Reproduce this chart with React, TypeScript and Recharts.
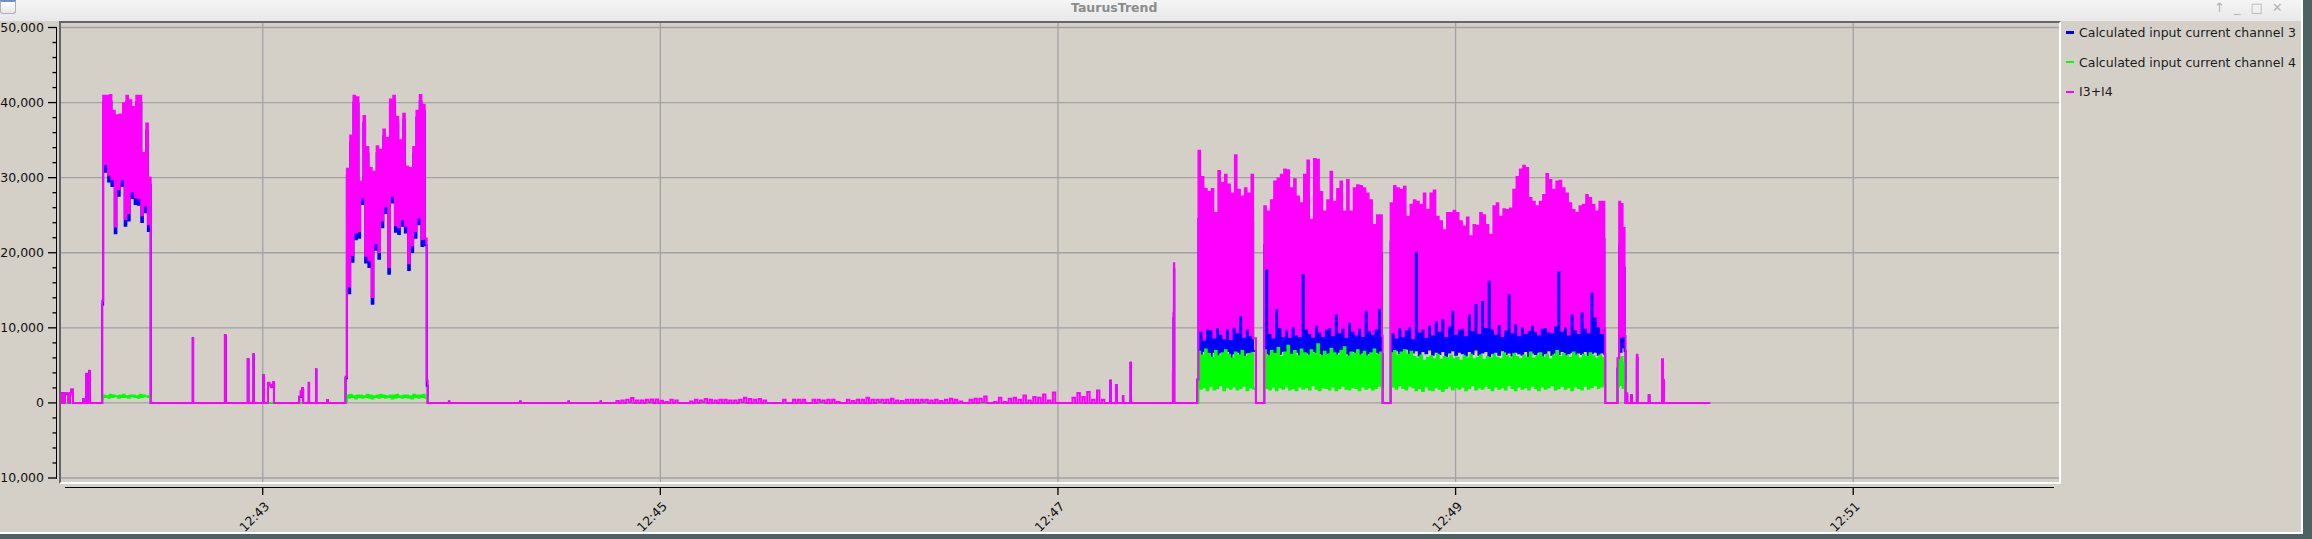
import { LineChart, Line, XAxis, YAxis, CartesianGrid } from "recharts";

// time is in seconds after 12:42:00
const xDomain = [-0.87, 602.1];
const timeTicks = [60, 180, 300, 420, 540];
const timeLabels = ["12:43", "12:45", "12:47", "12:49", "12:51"];

const yDomain = [-10533, 50600];
const yMajor = [-10000, 0, 10000, 20000, 30000, 40000, 50000];
const yTicks = [
  -10000, -8000, -6000, -4000, -2000, 0, 2000, 4000, 6000, 8000, 10000, 12000, 14000, 16000,
  18000, 20000, 22000, 24000, 26000, 28000, 30000, 32000, 34000, 36000, 38000, 40000, 42000,
  44000, 46000, 48000, 50000,
];

const seriesNames = [
  "Calculated input current channel 3",
  "Calculated input current channel 4",
  "I3+I4",
];
const seriesColors = ["#0000ff", "#00ff00", "#ff00ff"];

// isolated samples: time, I3+I4, channel 3, channel 4
const evT = [
  -0.87, -0.65, -0.05, 0.3, 1.0, 1.4, 1.85, 2.25, 2.75, 5.85, 5.95, 6.7, 6.9, 7.65, 7.85, 11.55,
  25.8, 26.2, 38.9, 39.0, 48.6, 48.75, 48.85, 55.5, 55.7, 57.2, 57.3, 60.2, 60.4, 61.6, 62.0,
  62.6, 63.1, 63.4, 71.0, 71.5, 71.9, 72.1, 72.2, 73.9, 74.0, 76.1, 76.2, 79.4, 79.6, 85.0,
  109.5, 109.8, 116.2, 116.3, 137.7, 137.8, 152.3, 152.4, 162.0, 162.1,
  315.8, 315.9, 317.5, 317.7, 319.6, 319.7, 321.9, 322.0, 334.7, 334.85, 335.0, 335.1, 342.0,
  359.75, 398.0, 465.15,
  468.85, 469.35, 469.7, 470.05, 470.4, 470.6, 471.0, 471.3, 471.5, 471.8, 473.0, 473.2,
  474.7, 474.9, 478.3, 478.5, 482.3, 482.6, 482.9, 496.8,
];
const evSum = [
  0, 1300, 0, 1300, 1250, 0, 1300, 1800, 0, 500, 0, 3900, 0, 4300, 0, 13600,
  30000, 0, 8600, 0, 9060, 8800, 0, 5800, 0, 6500, 0, 3700, 0, 2700, 2400,
  2200, 2800, 0, 840, 1600, 2000, 1800, 0, 2700, 0, 4500, 0, 400, 0, 3500,
  3000, 0, 200, 0, 200, 0, 200, 0, 200, 0,
  3000, 0, 2400, 0, 930, 0, 5370, 0, 4600, 12000, 18600, 0, 3100,
  0, 0, 0,
  5950, 26800, 8800, 26500, 9000, 23300, 8900, 0, 1300, 0, 1070, 0,
  6400, 0, 1070, 0, 5800, 3060, 0, 0,
];
const evCh3 = [
  0, 1300, 0, 1250, 1200, 0, 1300, 1750, 0, 500, 0, 3850, 0, 4250, 0, 13100,
  29100, 0, 8600, 0, 9000, 8800, 0, 5800, 0, 6450, 0, 3650, 0, 2650, 2350,
  2150, 2750, 0, 800, 1550, 1950, 1750, 0, 2650, 0, 4450, 0, 400, 0, 3300,
  2300, 0, 200, 0, 200, 0, 200, 0, 200, 0,
  2950, 0, 2350, 0, 900, 0, 5300, 0, 4000, 11300, 17800, 0, 3100,
  0, 0, 0,
  4600, 21000, 6800, 20500, 7400, 18000, 6900, 0, 1000, 0, 1050, 0,
  6000, 0, 1000, 0, 5500, 3000, 0, 0,
];
const evCh4 = [
  0, 0, 0, 0, 0, 0, 0, 0, 0, 0, 0, 0, 0, 0, 0, 500,
  900, 0, 0, 0, 0, 0, 0, 0, 0, 0, 0, 0, 0, 0, 0,
  0, 0, 0, 0, 0, 0, 0, 0, 0, 0, 0, 0, 0, 0, 200,
  700, 0, 0, 0, 0, 0, 0, 0, 0, 0,
  0, 0, 0, 0, 0, 0, 0, 0, 600, 700, 800, 0, 0,
  0, 0, 0,
  2200, 5800, 2400, 6100, 2000, 5300, 2600, 1300, 0, 0, 0, 0,
  400, 0, 0, 0, 300, 0, 0, 0,
];

// bursts: one bin per second, each bin read as its peak and its floor
const binStep = 1;

const r1Start = 11.85;
const r1SumHi = [40900, 40900, 41000, 38900, 38300, 38400, 39900, 40900, 40300, 39400, 40900, 40900, 33300, 37200];
const r1SumLo = [31800, 30400, 29800, 23500, 28500, 29800, 24500, 25300, 28200, 27400, 27300, 25000, 26300, 23800];
const r1Ch3Hi = [40000, 39900, 40100, 38000, 37400, 37500, 39000, 40000, 39400, 38500, 40000, 40000, 32400, 36300];
const r1Ch3Lo = [30800, 29500, 28900, 22600, 27600, 28900, 23600, 24300, 27300, 26500, 26400, 24100, 25400, 22900];
const r1Ch4Hi = [1000, 900, 1100, 1000, 900, 1000, 1100, 900, 1000, 1000, 900, 1100, 1000, 900];
const r1Ch4Lo = [800, 700, 800, 900, 700, 800, 800, 700, 900, 800, 700, 800, 900, 800];

const r2Start = 85.4;
const r2SumHi = [
  31200, 35600, 40900, 40700, 29500, 38200, 34100, 31300, 30800, 34200, 33700, 36400,
  35300, 40400, 40900, 38100, 35000, 38500, 31500, 31300, 34100, 38900, 41000, 39700,
];
const r2SumLo = [
  15500, 19700, 22700, 22900, 27400, 19600, 19000, 14100, 21300, 20100, 24300, 26200,
  18100, 27600, 23700, 23400, 24500, 23600, 18600, 21000, 22900, 24700, 21800, 21900,
];
const r2Ch3Hi = [
  30300, 34700, 40000, 39800, 28600, 37300, 33200, 30400, 29900, 33300, 32800, 35500,
  34400, 39500, 40000, 37200, 34100, 37600, 30600, 30400, 33200, 38000, 40100, 38800,
];
const r2Ch3Lo = [
  14600, 18800, 21800, 22000, 26500, 18700, 18100, 13200, 20400, 19200, 23400, 25300,
  17200, 26700, 22800, 22500, 23600, 22700, 17700, 20100, 22000, 23800, 20900, 21000,
];
const r2Ch4Hi = [
  1000, 1100, 900, 1000, 1000, 900, 1100, 1000, 900, 1000, 1100, 1000,
  900, 1000, 1000, 1100, 900, 1000, 1000, 900, 1100, 1000, 1000, 1100,
];
const r2Ch4Lo = [
  700, 800, 600, 800, 700, 800, 700, 600, 800, 700, 800, 700,
  800, 600, 700, 800, 700, 800, 700, 600, 800, 700, 800, 700,
];

const r3aStart = 342.4;
const r3aSumHi = [33600, 30100, 28500, 28100, 28500, 25300, 30900, 29300, 30400, 29100, 27900, 33000, 28400, 27500, 28600, 27900, 30400];
const r3aSumLo = [9600, 8400, 9900, 9800, 8700, 10100, 9200, 8600, 9900, 8500, 10200, 9400, 11700, 8800, 9900, 9000, 8600];
const r3aCh3Hi = [24500, 23500, 22000, 21500, 22000, 19500, 24500, 23000, 24000, 22500, 21500, 26500, 22000, 21000, 22000, 21500, 24000];
const r3aCh3Lo = [6400, 6900, 6600, 6200, 6800, 6300, 6700, 6500, 6900, 6100, 6600, 6800, 6400, 6200, 6700, 6300, 6900];
const r3aCh4Hi = [6800, 6300, 7100, 6500, 6000, 6900, 6200, 6600, 7000, 6400, 5900, 6700, 6300, 6900, 6100, 6500, 6600];
const r3aCh4Lo = [1900, 2100, 1700, 2300, 1800, 2000, 2400, 1700, 2100, 1900, 2200, 1800, 2000, 2300, 1700, 2100, 1900];

const r3bStart = 362.25;
const r3bSumHi = [
  26200, 25500, 27000, 29500, 29900, 30400, 31100, 31000, 28600, 29800,
  27500, 26600, 30400, 32300, 24400, 32500, 32400, 28100, 25500, 27000,
  30800, 26800, 28500, 29500, 25500, 29700, 25500, 28600, 29000, 28900,
  28600, 27900, 27000, 23700, 25000, 25000,
];
const r3bSumLo = [
  17900, 9300, 8700, 12600, 10100, 8900, 9800, 8800, 10200, 9100,
  8900, 17300, 9900, 9300, 8800, 10400, 9500, 8900, 9900, 10100,
  9000, 11900, 9400, 10000, 8800, 10800, 9600, 9100, 10000, 8900,
  12400, 9700, 9200, 9900, 12600, 8900,
];
const r3bCh3Hi = [
  21000, 20500, 22000, 24500, 25000, 25500, 26000, 26000, 23500, 25000,
  22500, 21500, 25500, 27000, 19500, 27500, 27500, 23000, 20500, 22000,
  26000, 22000, 23500, 24500, 20500, 24500, 20500, 23500, 24000, 24000,
  23500, 23000, 22000, 18500, 20000, 20000,
];
const r3bCh3Lo = [
  6600, 6300, 6700, 6100, 6500, 6900, 6200, 6600, 6400, 6800,
  6100, 6500, 6700, 6300, 6900, 6200, 6600, 6400, 6000, 6700,
  6500, 6300, 6800, 6100, 6600, 6400, 6900, 6200, 6500, 6700,
  6300, 6600, 6100, 6800, 6400, 6500,
];
const r3bCh4Hi = [
  7000, 6200, 6900, 6500, 7300, 6100, 6700, 7600, 6400, 6900,
  6200, 7100, 6600, 6300, 7000, 6500, 7800, 6200, 6800, 6400,
  7200, 6600, 6300, 6900, 7400, 6100, 6700, 6500, 7000, 6300,
  6800, 6200, 6600, 7100, 6400, 6700,
];
const r3bCh4Lo = [
  2000, 1800, 2200, 1700, 2100, 1900, 2300, 1800, 2000, 1700,
  2200, 1900, 2100, 1800, 2400, 1900, 1700, 2100, 2000, 1800,
  2200, 1700, 2000, 2300, 1900, 1800, 2100, 2000, 1700, 2200,
  1900, 2100, 1800, 2000, 2300, 1900,
];

const r3cStart = 400.4;
const r3cSumHi = [
  26600, 28900, 28600, 28400, 28800, 24800, 26400, 27000, 26800, 26400,
  27900, 25700, 27900, 28300, 24800, 24200, 23000, 25300, 25300, 25600,
  25300, 24200, 23500, 24700, 22200, 23700, 23600, 25300, 25000, 23700,
  22400, 26200, 26600, 24800, 25800, 25700, 25900, 28400, 30100, 31100,
  31600, 31300, 27300, 26800, 26200, 26800, 27700, 30500, 29700, 28400,
  29500, 29600, 28600, 27900, 26600, 25700, 25300, 26200, 26400, 27700,
  27300, 26400, 25500, 26800, 26800,
];
const r3cSumLo = [
  9400, 8700, 10100, 8900, 9800, 10200, 8600, 20200, 9500, 9900,
  8800, 10400, 9100, 11000, 9600, 11300, 8900, 10300, 12400, 9200,
  9900, 10000, 9000, 11900, 9700, 13300, 9300, 13700, 10100, 16400,
  9900, 9200, 10500, 8900, 9800, 14600, 9400, 10600, 9000, 10200,
  9300, 9700, 10400, 9600, 9100, 10000, 10100, 9500, 9400, 10300,
  17700, 9600, 10200, 9100, 11900, 9800, 9300, 12200, 10000, 9400,
  14800, 11500, 10200, 9300, 9900,
];
const r3cCh3Hi = [
  21500, 23000, 23500, 22500, 23800, 20000, 21000, 22500, 21500, 21000,
  23000, 20500, 22500, 23000, 19800, 19000, 18000, 20500, 20000, 20800,
  20000, 19500, 18500, 19500, 17500, 18800, 18700, 20300, 20000, 18900,
  17600, 21000, 21500, 19800, 20700, 20800, 21000, 23000, 24500, 25500,
  26000, 25800, 22000, 21500, 21000, 21700, 22300, 25000, 24200, 23000,
  24000, 24300, 23200, 22500, 21500, 20500, 20000, 21000, 21200, 22500,
  22000, 21300, 20400, 21600, 21800,
];
const r3cCh3Lo = [
  6800, 7000, 6600, 6900, 7200, 6500, 6700, 7000, 6300, 6900,
  6600, 7100, 6400, 6800, 6500, 6900, 6200, 6700, 7000, 6400,
  6800, 6600, 6300, 6900, 6500, 7100, 6400, 6700, 6900, 6200,
  6600, 6800, 6400, 7000, 6500, 6700, 6300, 6800, 6600, 6400,
  6900, 6200, 6700, 6500, 6800, 6300, 6600, 7000, 6400, 6700,
  6500, 6900, 6200, 6600, 6800, 6400, 6700, 6500, 6900, 6300,
  6600, 6800, 6400, 6700, 6500,
];
const r3cCh4Hi = [
  6600, 6900, 6300, 6700, 7000, 6400, 6800, 6100, 5900, 6300,
  5600, 6000, 6200, 5800, 6400, 5700, 6100, 5900, 6300, 5800,
  6000, 5600, 6200, 5900, 6400, 5800, 6000, 6300, 5700, 6100,
  5900, 6400, 6000, 5800, 6600, 6200, 5900, 6500, 6100, 5800,
  6300, 6000, 6700, 5900, 6200, 6600, 6000, 6400, 5800, 6300,
  6900, 6100, 6500, 6200, 6000, 6700, 6300, 5900, 6400, 6100,
  6600, 6200, 5900, 6300, 6000,
];
const r3cCh4Lo = [
  2200, 1900, 2400, 2000, 1800, 2300, 2100, 1700, 2000, 1600,
  2200, 1800, 1700, 2100, 1900, 1600, 2000, 2300, 1800, 2100,
  1900, 2200, 1700, 2000, 2400, 1800, 2100, 1900, 2300, 2000,
  1700, 2200, 1900, 2100, 1800, 2400, 2000, 1700, 2200, 1900,
  2100, 1800, 2300, 2000, 1700, 2200, 1900, 2100, 2400, 1800,
  2000, 2300, 1900, 2100, 1700, 2200, 2000, 1800, 2300, 1900,
  2100, 2400, 2000, 2200, 2500,
];

// low-level stretch between 12:44:46 and 12:47:15 (I3+I4 only), peak and floor per step
const quietStart = 166.74;
const quietStep = 1.48;
const quietPeak = [
  250, 330, 420, 640, 330, 330, 420, 470, 470, 290,
  110, 420, 330, 0, 0, 200, 420, 330, 510, 420,
  330, 420, 420, 330, 330, 420, 690, 510, 420, 510,
  330, 0, 0, 0, 420, 0, 420, 420, 420, 0,
  420, 420, 330, 420, 420, 110, 0, 420, 250, 420,
  420, 690, 420, 420, 420, 420, 550, 330, 250, 420,
  420, 420, 420, 420, 330, 420, 250, 420, 550, 420,
  200, 0, 420, 550, 550, 870, 0, 110, 690, 110,
  550, 690, 420, 1000, 330, 780, 690, 1130, 330, 1400,
  0, 0, 0, 690, 1310, 780, 1440, 420, 1670, 420,
];
const quietFloor = [
  0, 0, 100, 0, 0, 0, 100, 0, 0, 0,
  0, 0, 0, 0, 0, 0, 0, 100, 0, 0,
  0, 0, 0, 0, 0, 100, 0, 0, 0, 0,
  0, 0, 0, 0, 0, 0, 0, 0, 0, 0,
  0, 100, 0, 0, 0, 0, 0, 0, 0, 0,
  0, 0, 0, 100, 0, 0, 0, 0, 0, 0,
  0, 0, 100, 0, 0, 0, 0, 0, 0, 0,
  0, 0, 0, 0, 100, 0, 0, 0, 0, 0,
  0, 0, 0, 0, 0, 0, 0, 0, 0, 0,
  0, 0, 0, 0, 0, 0, 0, 0, 0, 0,
];

type Row = { t: number; sum: number; ch3?: number; ch4?: number };

function pushBurst(
  rows: Row[], start: number,
  sumHi: number[], sumLo: number[], ch3Hi: number[], ch3Lo: number[], ch4Hi: number[], ch4Lo: number[],
) {
  for (let i = 0; i < sumHi.length; i++) {
    const t = start + i * binStep;
    rows.push({ t, sum: sumHi[i], ch3: ch3Hi[i], ch4: ch4Hi[i] });
    rows.push({ t: t + binStep / 2, sum: sumLo[i], ch3: ch3Lo[i], ch4: ch4Lo[i] });
  }
}

function buildRows(): Row[] {
  const rows: Row[] = [];
  evT.forEach((t, i) => rows.push({ t, sum: evSum[i], ch3: evCh3[i], ch4: evCh4[i] }));
  pushBurst(rows, r1Start, r1SumHi, r1SumLo, r1Ch3Hi, r1Ch3Lo, r1Ch4Hi, r1Ch4Lo);
  pushBurst(rows, r2Start, r2SumHi, r2SumLo, r2Ch3Hi, r2Ch3Lo, r2Ch4Hi, r2Ch4Lo);
  pushBurst(rows, r3aStart, r3aSumHi, r3aSumLo, r3aCh3Hi, r3aCh3Lo, r3aCh4Hi, r3aCh4Lo);
  pushBurst(rows, r3bStart, r3bSumHi, r3bSumLo, r3bCh3Hi, r3bCh3Lo, r3bCh4Hi, r3bCh4Lo);
  pushBurst(rows, r3cStart, r3cSumHi, r3cSumLo, r3cCh3Hi, r3cCh3Lo, r3cCh4Hi, r3cCh4Lo);
  quietPeak.forEach((v, i) => {
    const t = quietStart + i * quietStep;
    rows.push({ t, sum: v });
    rows.push({ t: t + quietStep / 2, sum: quietFloor[i] });
  });
  return rows.sort((a, b) => a.t - b.t);
}

const data = buildRows();

const FONT = "'DejaVu Sans', sans-serif";

function YTick(props: any) {
  const { y, payload } = props;
  const v = payload.value as number;
  const major = yMajor.includes(v);
  return (
    <g>
      <line x1={major ? 48 : 52.5} x2={57} y1={y} y2={y} stroke="#000" strokeWidth={1.3} />
      {major && (
        <text x={44} y={y} dy={4.5} textAnchor="end" fontSize={12.5} fill="#111" fontFamily={FONT}>
          {v.toLocaleString("en-US")}
        </text>
      )}
    </g>
  );
}

function XTick(props: any) {
  const { x, payload } = props;
  const label = timeLabels[timeTicks.indexOf(payload.value)];
  const ax = x + 7.5;
  const ay = 507;
  return (
    <g>
      <line x1={x} x2={x} y1={487} y2={495} stroke="#000" strokeWidth={1.3} />
      <text x={ax} y={ay} textAnchor="end" transform={`rotate(-45 ${ax} ${ay})`}
        fontSize={12.5} fill="#111" fontFamily={FONT}>
        {label}
      </text>
    </g>
  );
}

export default function App() {
  const abs = (s: React.CSSProperties): React.CSSProperties => ({ position: "absolute", ...s });
  return (
    <div style={{ position: "fixed", left: 0, top: 0, width: 2312, height: 539, background: "#4d6262", overflow: "hidden", fontFamily: FONT }}>
      {/* window */}
      <div style={abs({ left: 0, top: 0, width: 2301, height: 532, background: "#d4d0c8", borderRight: "2px solid #fff", borderBottom: "2px solid #fff" })} />
      <div style={abs({ left: 0, top: 0, width: 2301, height: 21, background: "linear-gradient(#f5f5f5, #e8e8e8)" })} />
      <div style={abs({ left: 0, top: 0, width: 16, height: 14, background: "linear-gradient(#ffffff, #e6e6e6)", border: "1px solid #b0b0b0", borderTop: "2px solid #6f8fc8", borderRadius: "0 0 3px 3px", boxSizing: "border-box" })} />
      <div style={abs({ left: 1071, top: 0, fontSize: 12.5, fontWeight: "bold", color: "#8c8c8c", lineHeight: "16px" })}>TaurusTrend</div>
      <div style={abs({ left: 2214, top: 0, fontSize: 13, color: "#b4b4b4", lineHeight: "16px", letterSpacing: 0 })}>
        <span style={{ marginRight: 9 }}>↑</span>
        <span style={{ marginRight: 10 }}>_</span>
        <span style={{ marginRight: 9 }}>□</span>
        <span>✕</span>
      </div>

      <div style={abs({ left: 0, top: 0 })}>
        <LineChart width={2312} height={539} data={data} margin={{ top: 23, right: 253, bottom: 0, left: 0 }}>
          <CartesianGrid stroke="#a2a2a2" strokeWidth={1.3} horizontalValues={yMajor} verticalValues={timeTicks} />
          <XAxis type="number" dataKey="t" domain={xDomain} ticks={timeTicks} allowDataOverflow
            height={57} axisLine={false} tickLine={false} tick={(p: any) => <XTick {...p} />} interval={0} />
          <YAxis type="number" domain={yDomain} ticks={yTicks} allowDataOverflow width={61}
            axisLine={false} tickLine={false} tick={(p: any) => <YTick {...p} />} interval={0} />
          <Line dataKey="ch3" name={seriesNames[0]} type="stepAfter" stroke={seriesColors[0]} strokeWidth={2}
            dot={false} activeDot={false} connectNulls isAnimationActive={false} />
          <Line dataKey="ch4" name={seriesNames[1]} type="stepAfter" stroke={seriesColors[1]} strokeWidth={2}
            dot={false} activeDot={false} connectNulls isAnimationActive={false} />
          <Line dataKey="sum" name={seriesNames[2]} type="stepAfter" stroke={seriesColors[2]} strokeWidth={2}
            dot={false} activeDot={false} isAnimationActive={false} />
        </LineChart>
      </div>

      {/* sunken plot frame and the detached axis lines */}
      <div style={abs({ left: 59, top: 21, width: 2002, height: 463, boxSizing: "border-box", borderTop: "2px solid #666", borderLeft: "2px solid #666", borderRight: "2px solid #fff", borderBottom: "2px solid #fff", pointerEvents: "none" })} />
      <div style={abs({ left: 56, top: 27, width: 1.3, height: 452, background: "#000" })} />
      <div style={abs({ left: 65, top: 486.5, width: 1989, height: 1.3, background: "#000" })} />

      {/* legend */}
      {seriesNames.map((n, i) => (
        <div key={n} style={abs({ left: 2066, top: 24 + i * 29.7, height: 17, display: "flex", alignItems: "center" })}>
          <div style={{ width: 8, height: 2.5, background: seriesColors[i], marginRight: 5 }} />
          <span style={{ fontSize: 12.5, color: "#1c1c1c", whiteSpace: "nowrap" }}>{n}</span>
        </div>
      ))}
    </div>
  );
}
